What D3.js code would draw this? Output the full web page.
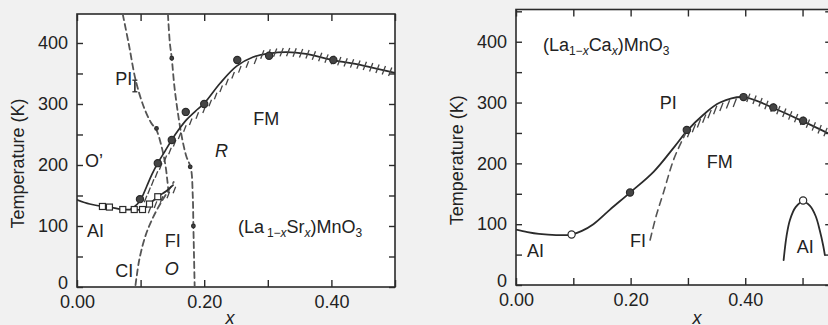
<!DOCTYPE html>
<html><head><meta charset="utf-8">
<script src="https://cdn.jsdelivr.net/npm/d3@7"></script>
<style>
body{margin:0;background:#f1f1f1;}
svg{display:block;}
text{font-family:"Liberation Sans",Arial,Helvetica,sans-serif;fill:#222;}
</style></head><body>
<svg id="c" width="828" height="325"></svg>
<script>
// ---------- (La1-xSrx)MnO3 ----------
const srTcX   = [0.085,0.095,0.102,0.110,0.118,0.127,0.138,0.149,0.160,0.172,0.186,0.200,0.225,0.251,0.277,0.303,0.330,0.360,0.403,0.450,0.500];
const srTcT   = [128,  136,  147,  166,  185,  203,  222,  241,  258,  274,  288,  301,  334,  362,  377,  383,  385,  382,  372,  363,  351];
const srSqLineX = [0.000,0.020,0.040,0.051,0.072,0.090,0.103,0.114,0.127,0.140,0.151];
const srSqLineT = [143,  136,  132,  131,  127,  127,  127,  136,  148,  157,  167];
const srSqX   = [0.040,0.051,0.072,0.090,0.103,0.114,0.127];
const srSqT   = [132,  131,  127,  127,  127,  136,  148];
const srDotX  = [0.099,0.127,0.149,0.171,0.200,0.252,0.302,0.403];
const srDotT  = [144,  203,  241,  287,  300,  372,  379,  372];
const srDash1X = [0.072,0.082,0.092,0.104,0.116,0.125,0.133,0.139,0.142,0.144];
const srDash1T = [447,  395,  340,  298,  270,  257,  230,  200,  175,  155];
const srDash2X = [0.143,0.146,0.149,0.153,0.158,0.165,0.172,0.179,0.182,0.183,0.184,0.185];
const srDash2T = [447,  400,  375,  330,  290,  245,  214,  195,  150,  100,  50,   0];
const srDash3X = [0.092,0.098,0.108,0.120,0.133,0.145,0.152];
const srDash3T = [3,    45,   85,   115,  140,  160,  172];
const srSmallDotX = [0.125,0.149,0.178,0.183];
const srSmallDotT = [260,  375,  197,  100];
const srErrX = [0.091], srErrLo = [320], srErrHi = [339];

// ---------- (La1-xCax)MnO3 ----------
const caTcX = [0.000,0.020,0.040,0.070,0.097,0.115,0.135,0.164,0.199,0.240,0.277,0.298,0.327,0.356,0.397,0.449,0.501,0.550];
const caTcT = [91,   87,   84,   82,   83,   89,   100,  124,  152,  186,  228,  253,  280,  300,  309,  291,  269,  247];
const caOpenX = [0.097,0.501];
const caOpenT = [83,   139];
const caDotX = [0.199,0.298,0.397,0.449,0.501];
const caDotT = [152,  255,  309,  292,  270];
const caFIX = [0.234,0.245,0.257,0.275,0.290,0.299];
const caFIT = [74,   115,  151,  206,  238,  255];
const caAIX = [0.467,0.472,0.478,0.488,0.501,0.513,0.523,0.530,0.536,0.539];
const caAIT = [41,   80,   107,  128,  137,  130,  113,  90,   65,   49];

const yTicks = [0,50,100,150,200,250,300,350,400,450];
const yLabels = [0,100,200,300,400];
const xTicks = [0,0.1,0.2,0.3,0.4,0.5];
const xLabels = [0,0.2,0.4];

const svg = d3.select("#c");
const ink = "#2b2b2b";
const FS = 18;

function panel(cfg){
  const xs = d3.scaleLinear().domain(cfg.xd).range([cfg.left,cfg.right]);
  const ys = d3.scaleLinear().domain(cfg.yd).range([cfg.bottom,cfg.top]);
  const g = svg.append("g");
  g.append("rect").attr("x",cfg.left).attr("y",cfg.top)
    .attr("width",cfg.right-cfg.left).attr("height",cfg.bottom-cfg.top)
    .attr("fill","#fff").attr("stroke",ink).attr("stroke-width",1.6);
  const tv = yTicks.filter(v=>v<=cfg.yd[1]);
  const ax = [
    g.append("g").attr("transform",`translate(${cfg.left},0)`).call(
      d3.axisLeft(ys).tickValues(tv).tickSize(-6).tickPadding(9)
        .tickFormat(d=>yLabels.includes(d)?d3.format("d")(d):"")),
    g.append("g").attr("transform",`translate(${cfg.right},0)`).call(
      d3.axisRight(ys).tickValues(tv).tickSize(-6).tickFormat("")),
    g.append("g").attr("transform",`translate(0,${cfg.bottom})`).call(
      d3.axisBottom(xs).tickValues(xTicks.filter(v=>v<=cfg.xd[1])).tickSize(-7).tickPadding(8)
        .tickFormat(d=>xLabels.some(l=>Math.abs(l-d)<1e-9)?d3.format(".2f")(d):"")),
    g.append("g").attr("transform",`translate(0,${cfg.top})`).call(
      d3.axisTop(xs).tickValues(xTicks.filter(v=>v<=cfg.xd[1])).tickSize(-7).tickFormat(""))
  ];
  ax.forEach(a=>{
    a.attr("font-size",null).attr("font-family",null);
    a.select(".domain").remove();
    a.selectAll("line").attr("stroke",ink).attr("stroke-width",1.4);
    a.selectAll("text").attr("font-size",FS).style("fill","#222");
  });
  // lift the "0" label slightly, as in the original
  ax[0].selectAll(".tick").filter(d=>d===0).select("text").attr("y",-4);
  g.append("text").attr("transform",`translate(${cfg.left-53},${(cfg.top+cfg.bottom)/2+13}) rotate(-90)`)
    .attr("text-anchor","middle").attr("font-size",FS).text("Temperature (K)");
  g.append("text").attr("x",cfg.xlab).attr("y",324)
    .attr("text-anchor","middle").attr("font-size",FS).attr("font-style","italic").text("x");
  const clip = "clip"+cfg.id;
  svg.append("clipPath").attr("id",clip).append("rect").attr("x",cfg.left).attr("y",cfg.top)
    .attr("width",cfg.right-cfg.left).attr("height",cfg.bottom-cfg.top);
  const plot = g.append("g").attr("clip-path",`url(#${clip})`);
  return {xs,ys,g,plot};
}

function line(p, X, T, opts){
  const pts = X.map((x,i)=>[p.xs(x),p.ys(T[i])]);
  const gen = d3.line().curve(d3.curveCatmullRom.alpha(0.5));
  return p.plot.append("path").attr("d",gen(pts)).attr("fill","none")
    .attr("stroke",opts.color||ink).attr("stroke-width",opts.w||1.7)
    .attr("stroke-dasharray",opts.dash||null).attr("stroke-linecap","round");
}

function hatch(p, path, xa, xb, mode, step){
  const node = path.node(), L = node.getTotalLength();
  const v = [0.36,-0.93];
  const a = p.xs(xa), b = p.xs(xb);
  for(let l=0;l<=L;l+=step){
    const q = node.getPointAtLength(l);
    if(q.x<a||q.x>b) continue;
    let s,e;
    if(mode==="cross"){ s=[q.x-4.5*v[0],q.y-4.5*v[1]]; e=[q.x+4.5*v[0],q.y+4.5*v[1]]; }
    else if(mode==="below"){ s=[q.x+1,q.y+1]; e=[q.x-9*v[0]+1,q.y-9*v[1]+1]; }
    else { const o=[q.x+3,q.y+3]; s=[o[0]-4*v[0],o[1]-4*v[1]]; e=[o[0]+3*v[0],o[1]+3*v[1]]; }
    p.plot.append("line").attr("x1",s[0]).attr("y1",s[1]).attr("x2",e[0]).attr("y2",e[1])
      .attr("stroke","#444").attr("stroke-width",1.3);
  }
}

function dots(p, X, T, r, fill){
  p.plot.selectAll(null).data(X).enter().append("circle")
    .attr("cx",(d)=>p.xs(d)).attr("cy",(d,i)=>p.ys(T[i])).attr("r",r)
    .attr("fill",fill||"#444").attr("stroke",ink).attr("stroke-width",1.2);
}

function label(p, x, T, txt, italic){
  return p.g.append("text").attr("x",p.xs(x)).attr("y",p.ys(T)).attr("font-size",FS)
    .attr("font-style",italic?"italic":null).text(txt);
}

function formula(p, x, T, el, gap){
  const t = p.g.append("text").attr("x",p.xs(x)).attr("y",p.ys(T)).attr("font-size",FS);
  t.append("tspan").text("(La");
  t.append("tspan").attr("font-size",12).attr("dy",4).attr("dx",gap).text("1\u2212");
  t.append("tspan").attr("font-size",12).attr("font-style","italic").text("x");
  t.append("tspan").attr("dy",-4).text(el);
  t.append("tspan").attr("font-size",12).attr("font-style","italic").attr("dy",4).text("x");
  t.append("tspan").attr("dy",-4).text(")MnO");
  t.append("tspan").attr("font-size",12).attr("dy",4).text("3");
}

// ---------- left panel ----------
const L = panel({id:"a", left:77, right:395, top:14, bottom:287, xd:[0,0.5], yd:[0,447.5], xlab:230});
line(L, srDash1X, srDash1T, {dash:"6,4", w:1.8, color:"#555"});
line(L, srDash2X, srDash2T, {dash:"6,4", w:1.8, color:"#555"});
line(L, srDash3X, srDash3T, {dash:"6,4", w:1.8, color:"#555"});
const sq = line(L, srSqLineX, srSqLineT, {w:1.7});
const tc = line(L, srTcX, srTcT, {w:1.7});
hatch(L, tc, 0.10, 0.285, "near", 9);
hatch(L, tc, 0.285, 0.5, "cross", 6.5);
hatch(L, sq, 0.105, 0.155, "near", 8);
L.plot.selectAll(null).data(srSqX).enter().append("rect")
  .attr("x",d=>L.xs(d)-3).attr("y",(d,i)=>L.ys(srSqT[i])-3).attr("width",6).attr("height",6)
  .attr("fill","#fff").attr("stroke",ink).attr("stroke-width",1.2);
dots(L, srDotX, srDotT, 3.6);
dots(L, srSmallDotX, srSmallDotT, 1.8);
srErrX.forEach((x,i)=>{
  const cx=L.xs(x), y1=L.ys(srErrLo[i]), y2=L.ys(srErrHi[i]);
  L.plot.append("line").attr("x1",cx).attr("x2",cx).attr("y1",y1).attr("y2",y2).attr("stroke",ink).attr("stroke-width",1.6);
  [y1,y2].forEach(y=>L.plot.append("line").attr("x1",cx-2.5).attr("x2",cx+2.5).attr("y1",y).attr("y2",y).attr("stroke",ink).attr("stroke-width",1.3));
});
label(L,0.060,331,"PI");
label(L,0.0126,197,"O\u2019");
label(L,0.0157,82,"AI");
label(L,0.138,65.6,"FI");
label(L,0.060,16.4,"CI");
label(L,0.138,19.7,"O",true);
label(L,0.217,213,"R",true);
label(L,0.277,265.6,"FM");
formula(L,0.253,88.5,"Sr",3);

// ---------- right panel ----------
const R = panel({id:"b", left:516, right:831.2, top:9.5, bottom:285, xd:[0,0.55], yd:[0,453], xlab:697});
const ca = line(R, caTcX, caTcT, {w:1.8});
hatch(R, ca, 0.30, 0.395, "below", 7);
hatch(R, ca, 0.395, 0.55, "cross", 6.5);
line(R, caFIX, caFIT, {dash:"7,5", w:1.6, color:"#555"});
line(R, caAIX, caAIT, {w:1.8});
dots(R, caDotX, caDotT, 3.6);
dots(R, caOpenX, caOpenT, 3.6, "#fff");
label(R,0.251,289,"PI");
label(R,0.333,193,"FM");
label(R,0.199,62.7,"FI");
label(R,0.019,46,"AI");
label(R,0.490,52.8,"AI");
formula(R,0.047,384.6,"Ca",0);
</script>
</body></html>
